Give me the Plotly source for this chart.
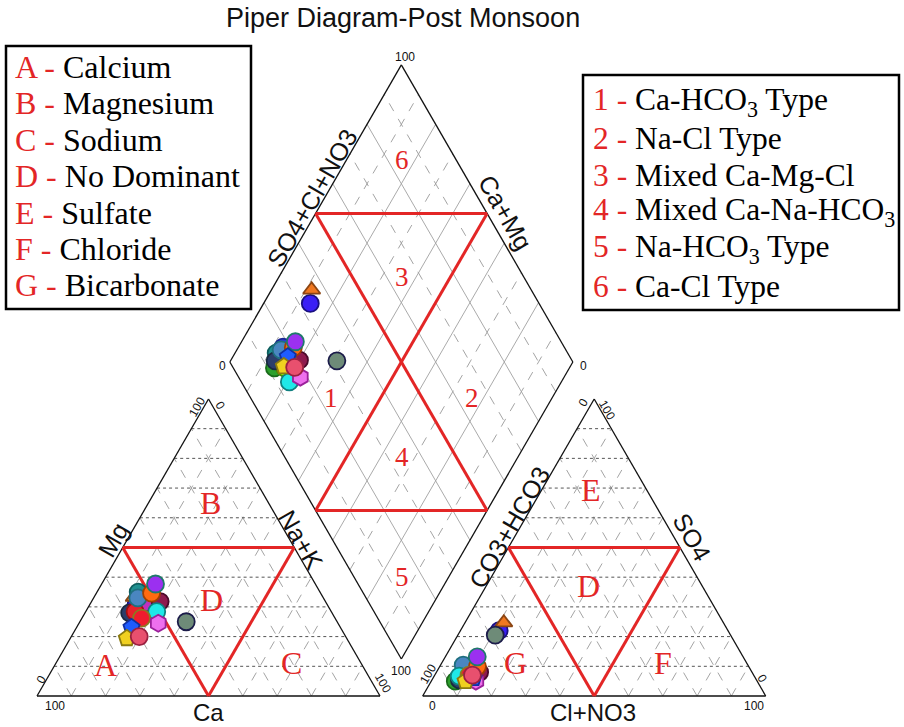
import math
import plotly.graph_objects as go

# ---------------------------------------------------------------
# Sample chemistry (% of meq/L)
# ---------------------------------------------------------------
sample_ids = ["S01", "S02", "S03", "S04", "S05", "S06", "S07", "S08", "S09", "S10",
              "S11", "S12", "S13", "S14", "S15", "S16", "S17", "S18", "S19", "S20", "S21"]
ca     = [57.0, 52.0, 50.0, 53.0, 56.0, 55.0, 44.0, 53.0, 53.0, 59.0,
          57.2, 48.2, 54.1, 49.3, 46.6, 50.9, 56.4, 52.4, 60.9, 64.1, 60.2]
mg     = [29.0, 31.0, 33.0, 34.0, 30.4, 33.3, 25.0, 35.0, 31.3, 28.0,
          28.4, 31.8, 33.0, 34.6, 37.7, 28.4, 26.2, 24.5, 23.1, 19.4, 20.0]
na_k   = [14.0, 17.0, 17.0, 13.0, 13.6, 11.7, 31.0, 12.0, 15.7, 13.0,
          14.4, 20.0, 12.9, 16.1, 15.7, 20.7, 17.4, 23.1, 16.0, 16.5, 19.8]
hco3   = [88.0, 85.0, 82.0, 82.0, 66.7, 64.0, 68.6, 85.0, 82.0, 86.6,
          82.0, 79.4, 83.0, 79.1, 77.5, 86.0, 83.0, 82.0, 82.2, 85.0, 82.0]
so4    = [5.0, 6.0, 8.0, 9.0, 22.0, 24.7, 20.5, 7.0, 8.0, 5.4,
          8.0, 8.0, 10.4, 9.9, 13.2, 6.7, 7.0, 5.0, 6.0, 5.0, 7.0]
cl_no3 = [7.0, 9.0, 10.0, 9.0, 11.3, 11.3, 10.9, 8.0, 10.0, 8.0,
          10.0, 12.6, 6.6, 11.0, 9.3, 7.3, 10.0, 13.0, 11.8, 10.0, 11.0]

fill_colors = ["#2ca02c", "#7fff00", "#d2691e", "#2b3bd6", "#3a1ff5", "#f07820", "#6e8b78",
               "#1f8f8f", "#c030c0", "#2c3e6b", "#e8202a", "#8e1b4e", "#4a86c0", "#ff6a10",
               "#9b30f0", "#20e8e8", "#ee1c2e", "#ee70ee", "#1f5cff", "#f0d020", "#e8506e"]
edge_colors = ["#1a6b1a", "#4a8a00", "#8b4513", "#1a2590", "#1a1080", "#8b4513", "#1c1c4a",
               "#0e5e5e", "#7a107a", "#1a2a40", "#a01010", "#4a0a2a", "#1f6f7f", "#a04000",
               "#1f7a6a", "#108080", "#8b7a20", "#9a209a", "#1030a0", "#8a7a10", "#9a2040"]
symbols = ["circle", "circle", "circle", "circle", "circle", "triangle-up", "circle",
           "circle", "circle", "circle", "circle", "circle", "circle", "circle",
           "circle", "circle", "circle", "hexagon", "pentagon", "pentagon", "circle"]

title_text = "Piper Diagram-Post Monsoon"
cation_key = [("A", "Calcium"), ("B", "Magnesium"), ("C", "Sodium"), ("D", "No Dominant"),
              ("E", "Sulfate"), ("F", "Chloride"), ("G", "Bicarbonate")]
facies_key = [("1", "Ca-HCO<sub>3</sub> Type"), ("2", "Na-Cl Type"), ("3", "Mixed Ca-Mg-Cl"),
              ("4", "Mixed Ca-Na-HCO<sub>3</sub>"), ("5", "Na-HCO<sub>3</sub> Type"),
              ("6", "Ca-Cl Type")]

# ---------------------------------------------------------------
# Geometry (page pixels, y grows downward)
# ---------------------------------------------------------------
W, HT = 904, 727
S = 343.0                       # side of each triangle
H = S * math.sqrt(3) / 2        # triangle height
LX, BASE_Y = 37.0, 696.0        # left vertex of cation triangle
RX = 422.7                      # left vertex of anion triangle
GAP = RX - (LX + S)
BX = (LX + S + RX) / 2          # bottom vertex of the diamond
BY = BASE_Y - GAP * math.sqrt(3) / 2

RED = "#e32626"


def cation_xy(c, m, n):
    t = c + m + n
    m, n = m / t, n / t
    return LX + S * (n + m / 2), BASE_Y - H * m


def anion_xy(h, s, c):
    t = h + s + c
    s, c = s / t, c / t
    return RX + S * (c + s / 2), BASE_Y - H * s


def diamond_uv(u, v):
    return BX + S / 2 * (v - u), BY - H * (u + v)


def diamond_xy(c, m, n, h, s, cl):
    u = (c + m) / (c + m + n)
    v = (s + cl) / (h + s + cl)
    return diamond_uv(u, v)


fig = go.Figure()


def add_segments(segs, color, width, dash):
    xs, ys = [], []
    for (x0, y0), (x1, y1) in segs:
        xs += [x0, x1, None]
        ys += [y0, y1, None]
    fig.add_trace(go.Scatter(x=xs, y=ys, mode="lines", hoverinfo="skip", showlegend=False,
                             line=dict(color=color, width=width, dash=dash)))


# --- triangle grids -------------------------------------------
fracs = [i / 10 for i in range(1, 10)]
for x0 in (LX, RX):
    horiz, diag = [], []
    for f in fracs:
        horiz.append(((x0 + f * S / 2, BASE_Y - f * H), (x0 + S - f * S / 2, BASE_Y - f * H)))
        diag.append(((x0 + f * S, BASE_Y), (x0 + f * S + (1 - f) * S / 2, BASE_Y - (1 - f) * H)))
        diag.append(((x0 + f * S, BASE_Y), (x0 + f * S / 2, BASE_Y - f * H)))
    add_segments(diag, "#9a9a9a", 0.9, "dash")
    add_segments(horiz, "#555555", 1.0, "dot")

# --- diamond grid -----------------------------------------------
solid, dashed = [], []
for i in range(1, 10):
    f = i / 10
    segs = [(diamond_uv(f, 0), diamond_uv(f, 1)), (diamond_uv(0, f), diamond_uv(1, f))]
    (solid if i % 2 == 0 else dashed).extend(segs)
add_segments(dashed, "#9a9a9a", 0.9, "dash")
add_segments(solid, "#a0a0a0", 0.9, "solid")

# --- outlines ------------------------------------------------------
outline = []
for x0 in (LX, RX):
    a, b, c = (x0, BASE_Y), (x0 + S, BASE_Y), (x0 + S / 2, BASE_Y - H)
    outline += [(a, b), (b, c), (c, a)]
db, dl, dt, dr = diamond_uv(0, 0), diamond_uv(1, 0), diamond_uv(1, 1), diamond_uv(0, 1)
outline += [(db, dl), (dl, dt), (dt, dr), (dr, db)]
add_segments(outline, "#111111", 1.3, "solid")

# --- hydrochemical facies boundaries --------------------------------
red = []
for x0 in (LX, RX):
    p1 = (x0 + S / 4, BASE_Y - H / 2)
    p2 = (x0 + 3 * S / 4, BASE_Y - H / 2)
    p3 = (x0 + S / 2, BASE_Y)
    red += [(p1, p2), (p2, p3), (p3, p1)]
ul, ur = diamond_uv(1, 0.5), diamond_uv(0.5, 1)
ll, lr = diamond_uv(0.5, 0), diamond_uv(0, 0.5)
red += [(ul, ur), (ll, lr), (ul, lr), (ur, ll)]
add_segments(red, RED, 3.0, "solid")

# --- samples -----------------------------------------------------------
for i in range(len(sample_ids)):
    pts = [cation_xy(ca[i], mg[i], na_k[i]),
           anion_xy(hco3[i], so4[i], cl_no3[i]),
           diamond_xy(ca[i], mg[i], na_k[i], hco3[i], so4[i], cl_no3[i])]
    size = 15 if symbols[i] == "triangle-up" else 17
    fig.add_trace(go.Scatter(
        x=[p[0] for p in pts], y=[p[1] for p in pts], mode="markers", name=sample_ids[i],
        showlegend=False,
        marker=dict(symbol=symbols[i], size=size, color=fill_colors[i],
                    line=dict(color=edge_colors[i], width=1.8))))

# ---------------------------------------------------------------
# Text
# ---------------------------------------------------------------
ann = []
SANS = "Liberation Sans, Arial, sans-serif"
SERIF = "Liberation Serif, Times New Roman, serif"


def label(x, y, text, size, angle=0, color="#111111", family=SANS, xanchor="center"):
    ann.append(dict(x=x, y=y, text=text, showarrow=False, textangle=angle,
                    xanchor=xanchor, yanchor="middle",
                    font=dict(family=family, size=size, color=color)))


label(403, 18, title_text, 27)

# axis names
label(113, 540, "Mg", 25, -60)
label(208, 712, "Ca", 24)
label(301, 540, "Na+K", 25, 60)
label(312, 198, "SO4+Cl+NO3", 25, -60)
label(505, 212, "Ca+Mg", 25, 60)
label(509, 528, "CO3+HCO3", 25, -60)
label(692, 537, "SO4", 25, 60)
label(593, 712, "Cl+NO3", 24)

# tick values
label(55, 706, "100", 12)
label(41, 680, "0", 12, -60)
label(197, 407, "100", 12, -60)
label(220, 405, "0", 12, 60)
label(383, 683, "100", 12, 60)
label(432, 706, "0", 12)
label(428, 674, "100", 12, -60)
label(583, 403, "0", 12, -60)
label(607, 410, "100", 12, 60)
label(762, 678, "0", 12, 60)
label(754, 706, "100", 12)
label(405, 57, "100", 12)
label(222, 366, "0", 12)
label(583, 366, "0", 12)
label(401, 671, "100", 12)

# zone letters / facies numbers
for (x, y, t) in [(210, 503, "B"), (211, 600, "D"), (105, 665, "A"), (291, 663, "C"),
                  (591, 490, "E"), (588, 586, "D"), (515, 663, "G"), (663, 663, "F")]:
    label(x, y, t, 32, color=RED, family=SERIF)
for (x, y, t) in [(402, 160, "6"), (402, 277, "3"), (331, 398, "1"), (472, 398, "2"),
                  (402, 457, "4"), (402, 577, "5")]:
    label(x, y, t, 27, color=RED, family=SERIF)

# keys
for k, (code, name) in enumerate(cation_key):
    label(13, 67 + k * 36.4, f"<span style='color:{RED}'>{code} -</span> {name}", 32,
          family=SERIF, color="#000000", xanchor="left")
for k, (code, name) in enumerate(facies_key):
    label(591, 102 + k * 36.8, f"<span style='color:{RED}'>{code} -</span> {name}", 31.5,
          family=SERIF, color="#000000", xanchor="left")

shapes = [
    dict(type="rect", x0=6, y0=46, x1=251, y1=309, line=dict(color="#000000", width=2.5)),
    dict(type="rect", x0=583, y0=75, x1=899, y1=310, line=dict(color="#000000", width=2.5)),
]

fig.update_layout(
    width=W, height=HT, autosize=False,
    margin=dict(l=0, r=0, t=0, b=0),
    paper_bgcolor="white", plot_bgcolor="white",
    xaxis=dict(range=[0, W], visible=False, fixedrange=True),
    yaxis=dict(range=[HT, 0], visible=False, fixedrange=True),
    annotations=ann, shapes=shapes, showlegend=False,
)

fig.write_html("out.html")
